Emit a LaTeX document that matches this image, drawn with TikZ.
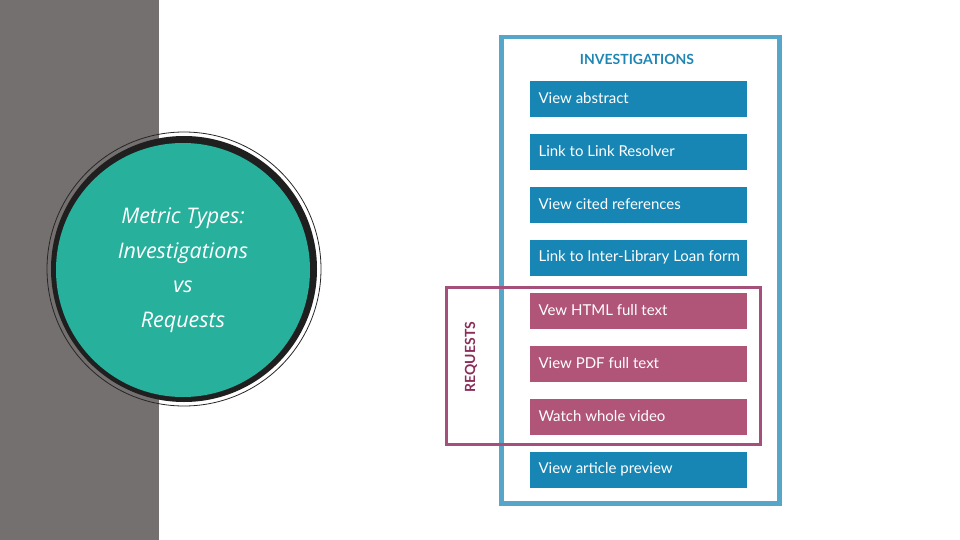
\documentclass[tikz,border=0pt]{standalone}
\usepackage{fontspec}
\setmainfont{Lato}
\newfontfamily\circfont{Open Sans}
\definecolor{panel}{HTML}{757070}
\definecolor{teal}{HTML}{27B09C}
\definecolor{frameblue}{HTML}{55A6C9}
\definecolor{boxblue}{HTML}{1786B5}
\definecolor{titleblue}{HTML}{1F86B4}
\definecolor{boxpink}{HTML}{B05478}
\definecolor{reqpink}{HTML}{A4507A}
\definecolor{reqtext}{HTML}{8B2D5A}
\begin{document}
\begin{tikzpicture}[x=1pt,y=-1pt,
  item/.style={draw=none,fill=#1,minimum width=217pt,minimum height=36pt,anchor=north west,inner sep=0pt},
  lbl/.style={anchor=west,text=white,font=\fontsize{15}{18}\selectfont}]
\useasboundingbox (0,0) rectangle (960,540);
\fill[panel] (0,0) rectangle (159,540);
% circle
\node[circle,draw=black!85,line width=0.8pt,minimum size=274pt,inner sep=0pt] (ring) at (184,269) {};
\node[circle,fill=black!88,minimum size=266pt,inner sep=0pt] (thick) at (184,269) {};
\node[circle,fill=teal,minimum size=254pt,inner sep=0pt,align=center,text=white,
  font=\circfont\itshape\fontsize{21.5}{34.5}\selectfont] (circ) at (183,270) {Metric Types:\\Investigations\\vs\\Requests};
% frames
\node[draw=frameblue,line width=4.5pt,minimum width=278pt,minimum height=466pt,anchor=north west,inner sep=0pt] (inv) at (499,35) {};
\node[font=\bfseries\fontsize{14}{16}\selectfont,text=titleblue] (title) at (637,59) {INVESTIGATIONS};
\foreach \y/\t/\c [count=\i] in {81/View abstract/boxblue,134/Link to Link Resolver/boxblue,187/View cited references/boxblue,240/Link to Inter-Library Loan form/boxblue,293/Vew HTML full text/boxpink,346/View PDF full text/boxpink,399/Watch whole video/boxpink,452/View article preview/boxblue}{
  \node[item=\c] (b\i) at (530,\y) {};
  \node[lbl] (t\i) at ([xshift=5pt,yshift=1pt]b\i.west) {\t};
}
\node[draw=reqpink,line width=3pt,minimum width=314pt,minimum height=157pt,anchor=north west,inner sep=0pt] (req) at (445,286) {};
\node[rotate=90,font=\bfseries\fontsize{14}{16}\selectfont,text=reqtext] (reql) at (471,357) {REQUESTS};
\end{tikzpicture}
\end{document}
